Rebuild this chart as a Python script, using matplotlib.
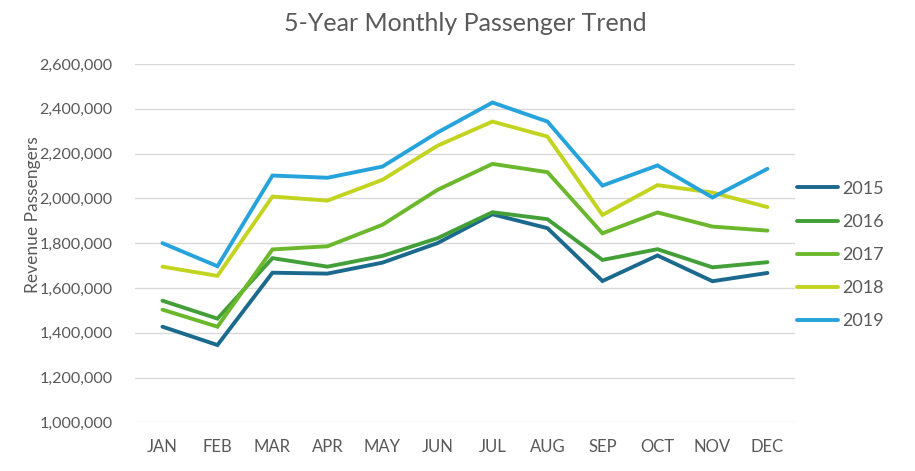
import matplotlib
matplotlib.use('Agg')
import matplotlib.pyplot as plt
from matplotlib.ticker import FuncFormatter

months = ['JAN', 'FEB', 'MAR', 'APR', 'MAY', 'JUN', 'JUL', 'AUG', 'SEP', 'OCT', 'NOV', 'DEC']
years = ['2015', '2016', '2017', '2018', '2019']

p2015 = [1427000, 1345000, 1668000, 1664000, 1713000, 1800000, 1929000, 1867000, 1631000, 1745000, 1630000, 1667000]
p2016 = [1543000, 1463000, 1733000, 1695000, 1743000, 1822000, 1938000, 1907000, 1725000, 1773000, 1692000, 1715000]
p2017 = [1503000, 1427000, 1772000, 1786000, 1882000, 2038000, 2154000, 2117000, 1844000, 1937000, 1874000, 1856000]
p2018 = [1695000, 1654000, 2008000, 1990000, 2083000, 2235000, 2343000, 2276000, 1926000, 2059000, 2026000, 1961000]
p2019 = [1800000, 1697000, 2102000, 2092000, 2142000, 2294000, 2428000, 2343000, 2057000, 2147000, 2004000, 2132000]

colors = ['#1b6a8e', '#43a039', '#6cb82d', '#c3d420', '#27a3dc']
yticks = [1000000, 1200000, 1400000, 1600000, 1800000, 2000000, 2200000, 2400000, 2600000]

plt.rcParams['font.family'] = ['Lato', 'DejaVu Sans']
gray = '#595959'

fig = plt.figure(figsize=(9.15, 4.71), dpi=100)
ax = fig.add_axes([0.1475, 0.1034, 0.7213, 0.7607])

for lab, vals, c in zip(years, [p2015, p2016, p2017, p2018, p2019], colors):
    ax.plot(range(len(months)), vals, color=c, lw=2.8, label=lab,
            solid_capstyle='round', solid_joinstyle='miter', zorder=3)

ax.set_xlim(-0.5, 11.5)
ax.set_ylim(1000000, 2600000)
ax.set_yticks(yticks)
ax.yaxis.set_major_formatter(FuncFormatter(lambda v, p: f'{int(v):,}'))
ax.set_xticks(range(len(months)), months)
ax.grid(True, axis='y', color='#d9d9d9', lw=1.0, zorder=0)
ax.tick_params(axis='both', length=0, labelsize=12, colors=gray)
ax.tick_params(axis='y', labelsize=11.6, pad=16)
ax.tick_params(axis='x', pad=12)
for s in ax.spines.values():
    s.set_visible(False)

ax.set_ylabel('Revenue Passengers', fontsize=12.5, color=gray)
ax.yaxis.set_label_coords(-0.142, 0.579)
ax.set_title('5-Year Monthly Passenger Trend', fontsize=18, color=gray, pad=24)

ax.legend(loc='center left', bbox_to_anchor=(1.003, 0.467), frameon=False,
          fontsize=13, labelcolor=gray, handlelength=2.3, handletextpad=0.2,
          labelspacing=0.95, borderaxespad=0, borderpad=0)

fig.savefig('out.png', dpi=100)
